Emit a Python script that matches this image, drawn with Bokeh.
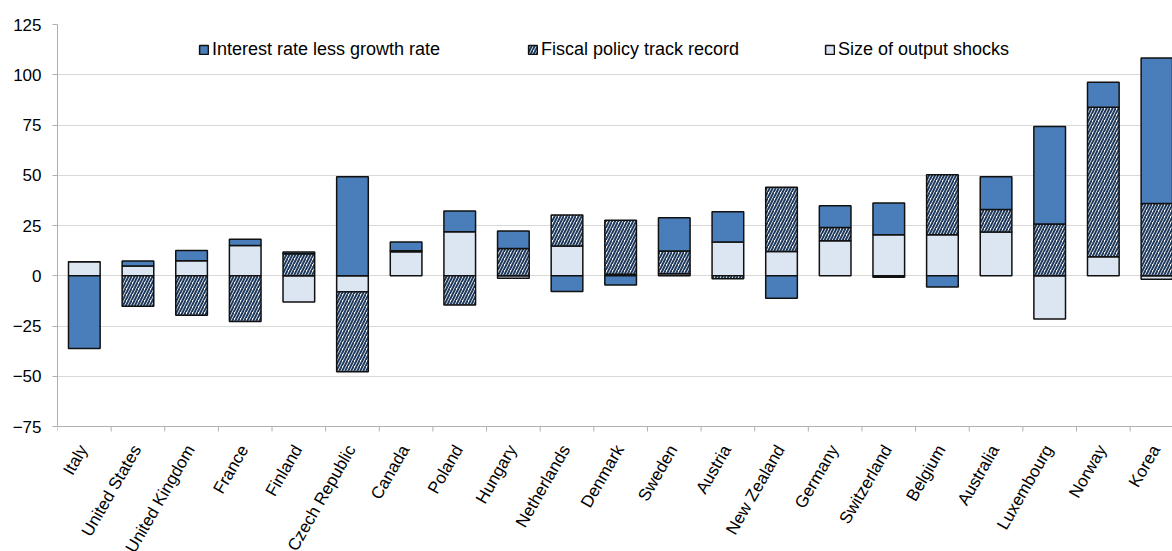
import math
from bokeh.plotting import figure
from bokeh.models import FixedTicker, Legend, LegendItem, Range1d, ColumnDataSource, Span
from bokeh.core.properties import value
from bokeh.embed import file_html
from bokeh.resources import INLINE

countries = ["Italy", "United States", "United Kingdom", "France", "Finland",
             "Czech Republic", "Canada", "Poland", "Hungary", "Netherlands",
             "Denmark", "Sweden", "Austria", "New Zealand", "Germany",
             "Switzerland", "Belgium", "Australia", "Luxembourg", "Norway", "Korea"]
rate_less_growth = [-36.2, 2.5, 5.1, 3.2, 0.8, 49.2, 4.3, 10.3, 8.7, -7.8,
                    -4.6, 16.6, 15.1, -11.2, 10.8, 15.8, -5.6, 16.2, 48.4, 12.5, 72.4]
fiscal_record = [0.0, -15.2, -19.6, -22.7, 11.0, -39.8, 0.5, -14.6, 13.6, 15.4,
                 26.8, 11.3, -1.5, 31.9, 6.6, -0.7, 29.8, 11.2, 25.8, 74.3, 35.9]
output_shocks = [7.0, 4.8, 7.5, 15.0, -13.1, -8.0, 12.0, 21.9, -1.2, 14.8,
                 0.8, 1.0, 16.8, 12.1, 17.4, 20.4, 20.4, 21.8, -21.5, 9.5, -1.7]
y_ticks = [-75, -50, -25, 0, 25, 50, 75, 100, 125]

FONT = "Liberation Sans"
BLUE = "#4a7ebb"
LIGHT = "#dce6f2"
HATCH = "#1f3a5c"
AXIS = "#b0b0b0"

# stacking: output shocks first, then fiscal, then interest-growth
series = [output_shocks, fiscal_record, rate_less_growth]
pos = [0.0] * len(countries)
neg = [0.0] * len(countries)
stacks = []
for s in series:
    bottoms, tops = [], []
    for i, v in enumerate(s):
        if v >= 0:
            bottoms.append(pos[i]); tops.append(pos[i] + v); pos[i] += v
        else:
            bottoms.append(neg[i]); tops.append(neg[i] + v); neg[i] += v
    stacks.append((bottoms, tops))

xs = list(range(len(countries)))
bounds_x = [i - 0.5 for i in range(len(countries) + 1)]
y_min, y_max = y_ticks[0], y_ticks[-1]

H, TOP = 551, 24
AXIS_PX = 402          # pixel height of the value axis (-75..125)
frame_px = H - TOP     # frame runs to the bottom so category labels can sit below the axis
y_bottom = y_max - (y_max - y_min) * frame_px / AXIS_PX

p = figure(width=1172, height=H, output_backend="svg", toolbar_location=None,
           x_range=Range1d(-0.5, 20.29), y_range=Range1d(y_bottom, y_max),
           x_axis_location=None,
           min_border_left=57, min_border_right=0, min_border_top=TOP, min_border_bottom=0)
p.outline_line_color = None
p.background_fill_color = "white"

# grid
p.xgrid.grid_line_color = None
p.ygrid.grid_line_color = "#d9d9d9"
p.ygrid.ticker = FixedTicker(ticks=y_ticks)

w = 0.59
src_l = ColumnDataSource(dict(x=xs, b=stacks[0][0], t=stacks[0][1]))
src_f = ColumnDataSource(dict(x=xs, b=stacks[1][0], t=stacks[1][1]))
src_r = ColumnDataSource(dict(x=xs, b=stacks[2][0], t=stacks[2][1]))

r_light = p.vbar(x="x", bottom="b", top="t", width=w, source=src_l,
                 fill_color=LIGHT, line_color="#111111", line_width=1.5)
r_fisc = p.vbar(x="x", bottom="b", top="t", width=w, source=src_f,
                fill_color="white", hatch_pattern="/", hatch_color=HATCH,
                hatch_scale=6, hatch_weight=2,
                line_color="#111111", line_width=1.5)
r_rate = p.vbar(x="x", bottom="b", top="t", width=w, source=src_r,
                fill_color=BLUE, line_color="#111111", line_width=1.5)

# y axis
p.yaxis.bounds = (y_min, y_max)
p.yaxis.ticker = FixedTicker(ticks=y_ticks, minor_ticks=[])
p.yaxis.axis_line_color = AXIS
p.yaxis.major_tick_line_color = AXIS
p.yaxis.major_tick_out = 5
p.yaxis.major_tick_in = 0
p.yaxis.major_label_standoff = 11
p.yaxis.major_label_text_font = FONT
p.yaxis.major_label_text_font_size = "17px"
p.yaxis.major_label_text_color = "black"

# category axis drawn at the bottom of the value axis
p.add_layout(Span(location=y_min, dimension="width", line_color=AXIS, line_width=1.2))
p.ray(x=bounds_x, y=[y_min] * len(bounds_x), length=5, length_units="screen",
      angle=-math.pi / 2, line_color=AXIS, line_width=1)
p.text(x=xs, y=[y_min] * len(xs), text=countries, angle=1.047,
       x_offset=-1, y_offset=20, text_align="right", text_baseline="middle",
       text_font=value(FONT), text_font_size=value("17px"), text_color="black")

# legends
labels = ["Interest rate less growth rate", "Fiscal policy track record", "Size of output shocks"]
renders = [r_rate, r_fisc, r_light]
xpos = [141, 470, 767]
leg_y = frame_px - 36
for lab, rr, xp in zip(labels, renders, xpos):
    lg = Legend(items=[LegendItem(label=lab, renderers=[rr])], location=(xp, leg_y),
                orientation="horizontal", padding=0, margin=0, border_line_color=None,
                background_fill_alpha=0, glyph_width=11, glyph_height=11,
                label_standoff=3, label_height=18, label_text_font=FONT,
                label_text_font_size="18px", label_text_color="black")
    p.add_layout(lg, "center")

open("out.html", "w").write(file_html(p, INLINE))
